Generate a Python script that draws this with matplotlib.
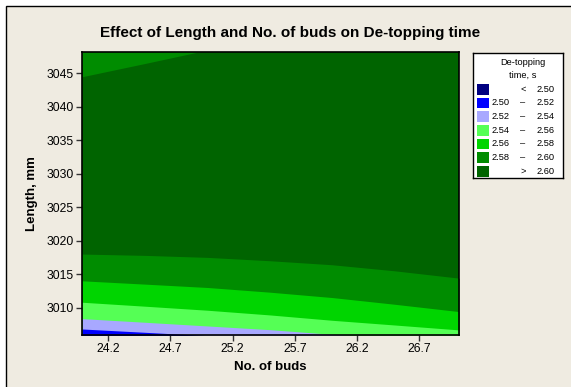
import numpy as np
import matplotlib
matplotlib.use('Agg')
from matplotlib import pyplot as plt
from matplotlib.patches import Rectangle

#%% data
levels = [2.50, 2.52, 2.54, 2.56, 2.58, 2.60]
band_colors = ['#000080', '#0000FF', '#A8A8FF', '#55FF55', '#00D500', '#008C00', '#006400']
buds = [23.99, 24.5, 25.0, 25.5, 26.0, 26.5, 27.02]
# length (mm) where each contour level is crossed, one value per buds column
len_252 = [3006.8, 3006.3, 3005.8, 3005.3, 3004.8, 3004.3, 3003.8]
len_254 = [3008.35, 3007.8, 3007.25, 3006.7, 3006.0, 3005.4, 3004.8]
len_256 = [3010.8, 3010.2, 3009.6, 3008.9, 3008.1, 3007.4, 3006.66]
len_258 = [3014.0, 3013.5, 3013.0, 3012.3, 3011.5, 3010.5, 3009.4]
len_260 = [3018.0, 3017.8, 3017.5, 3017.0, 3016.4, 3015.5, 3014.4]
len_260_top = [3044.5, 3046.5, 3048.5, 3050.5, 3052.5, 3054.5, 3056.6]
xticks = [24.2, 24.7, 25.2, 25.7, 26.2, 26.7]
yticks = [3010, 3015, 3020, 3025, 3030, 3035, 3040, 3045]

#%% figure
W, H = 571, 387
plt.rcParams['font.family'] = ['Liberation Sans', 'DejaVu Sans']
fig = plt.figure(figsize=(W / 100, H / 100), dpi=100)
fig.patch.set_facecolor('white')
frame = Rectangle((6 / W, -0.1), 1.2, 1.1 - 6 / H, transform=fig.transFigure,
                  facecolor='#EFEBE1', edgecolor='black', lw=1, zorder=-5)
fig.add_artist(frame)

ax = fig.add_axes([82 / W, 1 - 335 / H, (459 - 82) / W, (335 - 52) / H])
lo, hi = 2990, 3070
ax.fill_between(buds, lo, hi, color=band_colors[6], lw=0)
ax.fill_between(buds, len_260_top, hi, color=band_colors[5], lw=0)
ax.fill_between(buds, lo, len_260, color=band_colors[5], lw=0)
ax.fill_between(buds, lo, len_258, color=band_colors[4], lw=0)
ax.fill_between(buds, lo, len_256, color=band_colors[3], lw=0)
ax.fill_between(buds, lo, len_254, color=band_colors[2], lw=0)
ax.fill_between(buds, lo, len_252, color=band_colors[1], lw=0)
ax.set_xlim(buds[0], buds[-1])
ax.set_ylim(3005.9, 3048.2)
ax.set_xticks(xticks)
ax.set_xticklabels([f'{t:.1f}' for t in xticks])
ax.set_yticks(yticks)
ax.tick_params(labelsize=8.7, length=4, width=1, color='#333333', pad=2)
for s in ax.spines.values():
    s.set_linewidth(1.2)
ax.set_xlabel('No. of buds', fontsize=9.5, fontweight='bold', labelpad=4)
ax.set_ylabel('Length, mm', fontsize=9.5, fontweight='bold', labelpad=6)

fig.text(290 / W, 1 - 33 / H, 'Effect of Length and No. of buds on De-topping time',
         ha='center', va='center', fontsize=11, fontweight='bold')

#%% legend box drawn by hand (pixel units inside the box)
lax = fig.add_axes([473 / W, 1 - 178 / H, 90 / W, 125 / H])
lax.set_xlim(0, 90)
lax.set_ylim(125, 0)
lax.set_xticks([])
lax.set_yticks([])
for s in lax.spines.values():
    s.set_linewidth(1)
lax.text(50, 9.7, 'De-topping', ha='center', va='center', fontsize=6.7)
lax.text(50, 22, 'time, s', ha='center', va='center', fontsize=6.7)
labels = []
labels.append(('', '<', f'{levels[0]:.2f}'))
for i in range(len(levels) - 1):
    labels.append((f'{levels[i]:.2f}', '–', f'{levels[i + 1]:.2f}'))
labels.append(('', '>', f'{levels[-1]:.2f}'))
for i, (a, b, c) in enumerate(labels):
    yc = 36.3 + i * 13.65
    lax.add_patch(Rectangle((3.7, yc - 5.3), 12, 10.6, facecolor=band_colors[i], edgecolor='none'))
    lax.text(28, yc, a, ha='center', va='center', fontsize=6.7)
    lax.text(50, yc, b, ha='center', va='center', fontsize=6.7)
    lax.text(73, yc, c, ha='center', va='center', fontsize=6.7)

fig.savefig('out.png', dpi=100, facecolor=fig.get_facecolor())
